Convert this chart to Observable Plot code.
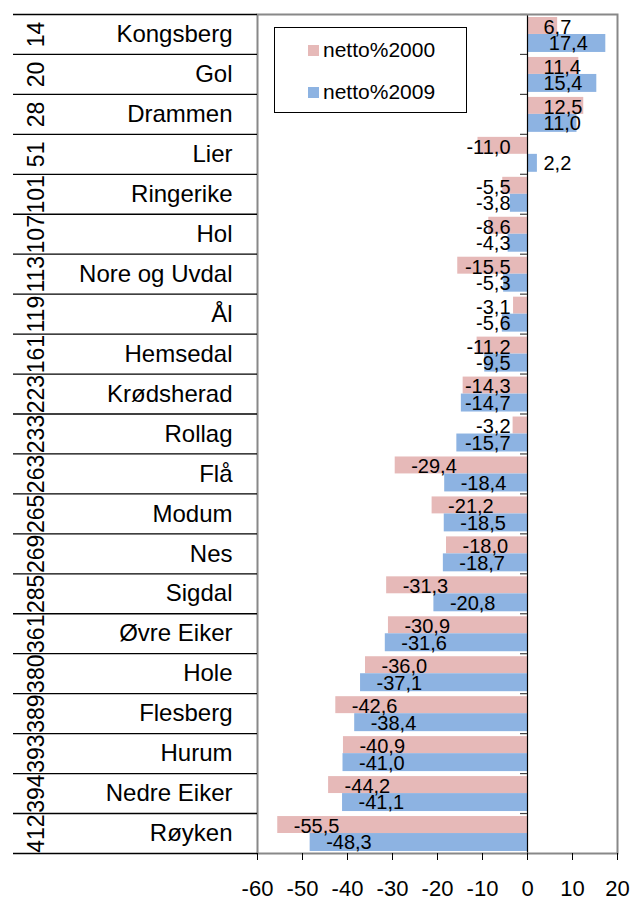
<!DOCTYPE html>
<html>
<head>
<meta charset="utf-8">
<script src="https://cdn.jsdelivr.net/npm/d3@7"></script>
<script src="https://cdn.jsdelivr.net/npm/@observablehq/plot@0.6"></script>
<style>
  html, body { margin: 0; padding: 0; background: white; }
  #wrap { position: relative; width: 630px; height: 901px; font-family: 'Liberation Sans', Arial, sans-serif; }
  #legend { position: absolute; left: 274px; top: 27px; width: 191px; height: 84px; border: 1px solid #000; background: white; }
  .li { position: absolute; left: 33px; height: 24px; display: flex; align-items: center; font-size: 21px; color: #000; }
  .sw { width: 11px; height: 11px; margin-right: 4px; }
</style>
</head>
<body>
<div id="wrap"></div>
<script>
const ranks = [14, 20, 28, 51, 101, 107, 113, 119, 161, 223, 233, 263, 265, 269, 285, 361, 380, 389, 393, 394, 412];
const names = ["Kongsberg", "Gol", "Drammen", "Lier", "Ringerike", "Hol", "Nore og Uvdal", "Ål", "Hemsedal", "Krødsherad", "Rollag", "Flå", "Modum", "Nes", "Sigdal", "Øvre Eiker", "Hole", "Flesberg", "Hurum", "Nedre Eiker", "Røyken"];
const netto2000 = [6.7, 11.4, 12.5, -11.0, -5.5, -8.6, -15.5, -3.1, -11.2, -14.3, -3.2, -29.4, -21.2, -18.0, -31.3, -30.9, -36.0, -42.6, -40.9, -44.2, -55.5];
const netto2009 = [17.4, 15.4, 11.0, 2.2, -3.8, -4.3, -5.3, -5.6, -9.5, -14.7, -15.7, -18.4, -18.5, -18.7, -20.8, -31.6, -37.1, -38.4, -41.0, -41.1, -48.3];
const seriesNames = ["netto%2000", "netto%2009"];
const colors = ["#E6B9B8", "#8DB3E2"];
const xDomain = [-60, 20];
const xTicks = [-60, -50, -40, -30, -20, -10, 0, 10, 20];

const W = 630, H = 901;
const mL = 257, mR = 13, mT = 14, mB = 48;

const rows = names.map((n, i) => ({name: n, rank: ranks[i], v2000: netto2000[i], v2009: netto2009[i]}));
const fmt = v => v.toFixed(1).replace(".", ",");

// label placement (Excel-like "inside end", pushed off the axis when too short)
const xs = d3.scaleLinear(xDomain, [mL, W - mR]);
const ctx = document.createElement("canvas").getContext("2d");
ctx.font = "20px 'Liberation Sans'";
function labelX(v) {
  const w = ctx.measureText(fmt(v)).width;
  const z = xs(0), e = xs(v);
  const left = v < 0 ? Math.min(e + 16, z - 17 - w) : Math.max(z + 16, e - 18 - w);
  return xs.invert(left);
}

const chart = Plot.plot({
  width: W, height: H,
  marginLeft: mL, marginRight: mR, marginTop: mT, marginBottom: mB,
  style: {fontFamily: "'Liberation Sans', Arial, sans-serif", background: "white", color: "black"},
  x: {domain: xDomain, ticks: xTicks},
  y: {domain: names, padding: 0, round: false},
  marks: [
    Plot.barX(rows, {y: "name", x: "v2000", fill: colors[0], insetTop: 3, insetBottom: 20}),
    Plot.barX(rows, {y: "name", x: "v2009", fill: colors[1], insetTop: 20, insetBottom: 2}),
    Plot.ruleX([0], {stroke: "#000", strokeWidth: 1.2}),
    Plot.ruleY(names, {y: d => d, x1: 0, x2: 0, dy: -20, insetLeft: -7, stroke: "#444", strokeWidth: 1.2}),
    Plot.ruleY([names[names.length - 1]], {y: d => d, x1: 0, x2: 0, dy: 20, insetLeft: -7, stroke: "#444", strokeWidth: 1.2}),
    Plot.text(rows, {y: "name", x: d => labelX(d.v2000), text: d => fmt(d.v2000), textAnchor: "start", dy: -7, fontSize: 20, fill: "#000"}),
    Plot.text(rows, {y: "name", x: d => labelX(d.v2009), text: d => fmt(d.v2009), textAnchor: "start", dy: 9.5, fontSize: 20, fill: "#000"}),
    Plot.frame({stroke: "#888", strokeWidth: 2}),
    Plot.axisX({ticks: xTicks, tickFormat: d => String(d), tickSize: 7, tickPadding: 20, fontSize: 22, label: null}),
    Plot.axisY({tickSize: 0, tickPadding: 25, fontSize: 24, label: null}),
    Plot.axisY({tickSize: 244, tickFormat: () => "", dy: -20, label: null, strokeWidth: 1.3}),
    Plot.axisY({ticks: [names[names.length - 1]], tickSize: 244, tickFormat: () => "", dy: 20, label: null, strokeWidth: 1.3}),
    Plot.text(rows, {y: "name", text: d => String(d.rank), frameAnchor: "left", textAnchor: "middle", dx: -221, rotate: -90, fontSize: 23, fill: "#000"})
  ]
});

const wrap = document.getElementById("wrap");
wrap.appendChild(chart);
const legend = document.createElement("div");
legend.id = "legend";
legend.innerHTML = seriesNames.map((s, i) =>
  `<div class="li" style="top:${10 + i * 42}px"><span class="sw" style="background:${colors[i]}"></span>${s}</div>`).join("");
wrap.appendChild(legend);
</script>
</body>
</html>
